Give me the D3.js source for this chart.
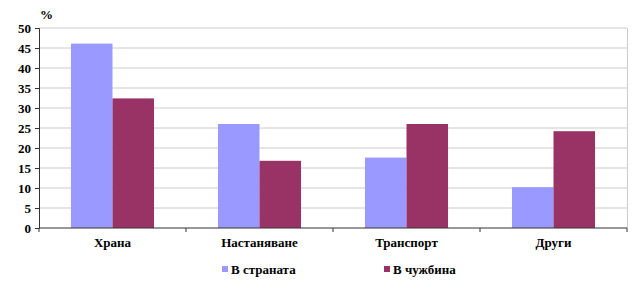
<!DOCTYPE html>
<meta charset="utf-8">
<script src="https://d3js.org/d3.v7.min.js"></script>
<style>
  body { margin: 0; background: #fff; }
</style>
<div id="chart"></div>
<script>
// Data
const categories = ["Храна", "Настаняване", "Транспорт", "Други"];
const seriesNames = ["В страната", "В чужбина"];
const domestic = [46.1, 26, 17.6, 10.2];
const abroad = [32.4, 16.8, 26, 24.2];
const yTicks = [0, 5, 10, 15, 20, 25, 30, 35, 40, 45, 50];
const colors = ["#9999FF", "#993366"];

const font = "Times New Roman, Liberation Serif, DejaVu Serif, serif";

const width = 642, height = 292;
const margin = { top: 28, right: 15, bottom: 64, left: 39 };

const svg = d3.select("#chart").append("svg")
  .attr("width", width)
  .attr("height", height)
  .attr("font-family", font)
  .attr("font-weight", "bold");

const x0 = d3.scaleBand()
  .domain(categories)
  .range([margin.left, width - margin.right])
  .paddingInner(0.435)
  .paddingOuter(0.2175);

const x1 = d3.scaleBand()
  .domain(seriesNames)
  .range([0, x0.bandwidth()]);

const y = d3.scaleLinear()
  .domain([0, 50])
  .range([height - margin.bottom, margin.top]);

// gridlines
svg.append("g")
  .selectAll("line")
  .data(yTicks.filter(d => d > 0))
  .join("line")
    .attr("x1", margin.left)
    .attr("x2", width - margin.right)
    .attr("y1", d => y(d))
    .attr("y2", d => y(d))
    .attr("stroke", "#cccccc")
    .attr("stroke-width", 1);

// right border line of plot
svg.append("line")
  .attr("x1", width - margin.right + 0.5)
  .attr("x2", width - margin.right + 0.5)
  .attr("y1", margin.top)
  .attr("y2", y(0))
  .attr("stroke", "#cccccc");

// bars
const rows = categories.map((c, i) => ({ cat: c, values: [domestic[i], abroad[i]] }));
svg.append("g")
  .selectAll("g")
  .data(rows)
  .join("g")
    .attr("transform", d => `translate(${x0(d.cat)},0)`)
  .selectAll("rect")
  .data(d => d.values.map((v, j) => ({ name: seriesNames[j], value: v, j })))
  .join("rect")
    .attr("x", d => x1(d.name))
    .attr("y", d => y(d.value))
    .attr("width", x1.bandwidth())
    .attr("height", d => y(0) - y(d.value))
    .attr("fill", d => colors[d.j]);

// y axis
const yAxis = svg.append("g")
  .attr("transform", `translate(${margin.left},0)`)
  .call(d3.axisLeft(y).tickValues(yTicks).tickSize(4).tickPadding(4))
  .attr("font-family", font)
  .attr("font-size", 13);
yAxis.select(".domain").attr("stroke", "#333");
yAxis.selectAll(".tick line").attr("stroke", "#333");
yAxis.selectAll("text").attr("fill", "#000");

svg.append("text")
  .attr("x", margin.left + 1)
  .attr("y", 19)
  .attr("font-size", 13)
  .text("%");

// x axis with ticks at category boundaries
const xBase = svg.append("g")
  .attr("transform", `translate(0,${y(0)})`);
xBase.append("line")
  .attr("x1", margin.left)
  .attr("x2", width - margin.right)
  .attr("stroke", "#333");
const step = x0.step();
xBase.selectAll("line.tick")
  .data(d3.range(categories.length + 1))
  .join("line")
    .attr("class", "tick")
    .attr("x1", i => margin.left + i * step)
    .attr("x2", i => margin.left + i * step)
    .attr("y1", 0)
    .attr("y2", 4)
    .attr("stroke", "#333");
xBase.selectAll("text")
  .data(categories)
  .join("text")
    .attr("x", d => x0(d) + x0.bandwidth() / 2)
    .attr("y", 19)
    .attr("text-anchor", "middle")
    .attr("font-size", 13)
    .text(d => d);

// legend
const legendX = [222, 384];
const legend = svg.append("g")
  .selectAll("g")
  .data(seriesNames)
  .join("g")
    .attr("transform", (d, i) => `translate(${legendX[i]},270)`);
legend.append("rect")
  .attr("x", 0).attr("y", -4)
  .attr("width", 6).attr("height", 6)
  .attr("fill", (d, i) => colors[i]);
legend.append("text")
  .attr("x", 9)
  .attr("y", 4)
  .attr("font-size", 13)
  .text(d => d);
</script>
